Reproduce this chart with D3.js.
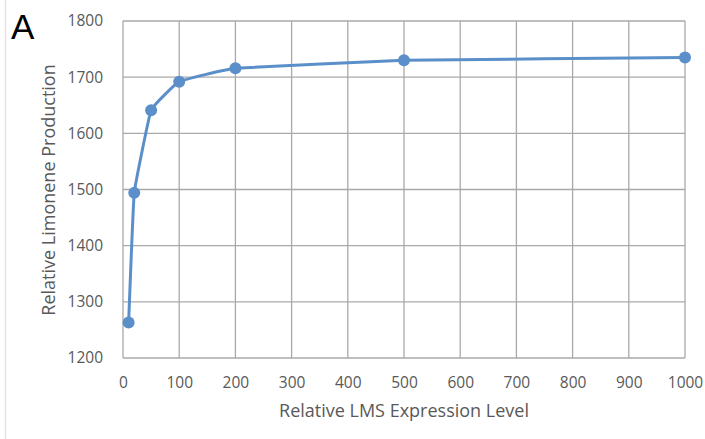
<!DOCTYPE html>
<html>
<head>
<meta charset="utf-8">
<script src="https://cdn.jsdelivr.net/npm/d3@7"></script>
<style>
  body { margin: 0; background: #fff; }
  svg text { font-family: "Open Sans", Lato, sans-serif; }
</style>
</head>
<body>
<div id="chart"></div>
<script>
// data
const expressionLevels = [10, 20, 50, 100, 200, 500, 1000];
const limoneneValues = [1263, 1494, 1641, 1692, 1716, 1730, 1735];
const xTicks = [0, 100, 200, 300, 400, 500, 600, 700, 800, 900, 1000];
const yTicks = [1200, 1300, 1400, 1500, 1600, 1700, 1800];

const W = 705, H = 439;
let margin = {top: 21, right: 20, bottom: 81, left: 123},
    width = 685 - margin.left,
    height = 358 - margin.top;

let svg = d3.select("#chart").append("svg")
    .attr("width", W)
    .attr("height", H);

svg.append("rect").attr("width", W).attr("height", H).attr("fill", "#ffffff");

// faint frame line at the left edge
svg.append("line")
    .attr("x1", 5.5).attr("x2", 5.5)
    .attr("y1", 0).attr("y2", H)
    .attr("stroke", "#e3e3e3").attr("stroke-width", 1.5);

let g = svg.append("g")
    .attr("transform", "translate(" + margin.left + "," + margin.top + ")");

let x = d3.scaleLinear().domain([0, 1000]).range([0, width]);
let y = d3.scaleLinear().domain([1200, 1800]).range([height, 0]);

// gridlines
g.append("g").selectAll("line")
    .data(xTicks).enter().append("line")
    .attr("x1", d => x(d)).attr("x2", d => x(d))
    .attr("y1", 0).attr("y2", height)
    .attr("stroke", "#a9a9a9").attr("stroke-width", 1.3);
g.append("g").selectAll("line")
    .data(yTicks).enter().append("line")
    .attr("x1", 0).attr("x2", width)
    .attr("y1", d => y(d)).attr("y2", d => y(d))
    .attr("stroke", "#a9a9a9").attr("stroke-width", 1.3);

// axes (labels only)
let xAxis = d3.axisBottom(x).tickValues(xTicks).tickFormat(d3.format("d")).tickSize(0).tickPadding(19);
let xAxisEL = g.append("g")
    .attr("transform", "translate(0," + height + ")")
    .call(xAxis);
xAxisEL.select(".domain").remove();
xAxisEL.selectAll("text").attr("fill", "#595959").style("font-size", "15.5px");

let yAxis = d3.axisLeft(y).tickValues(yTicks).tickFormat(d3.format("d")).tickSize(0).tickPadding(20);
let yAxisEL = g.append("g").call(yAxis);
yAxisEL.select(".domain").remove();
yAxisEL.selectAll("text").attr("fill", "#595959").style("font-size", "15.5px");

// line + markers
let points = expressionLevels.map((d, i) => ({x: d, y: limoneneValues[i]}));
let line = d3.line()
    .x(d => x(d.x))
    .y(d => y(d.y))
    .curve(d3.curveCardinal.tension(0.75));

g.append("path")
    .datum(points)
    .attr("fill", "none")
    .attr("stroke", "#5b8fca")
    .attr("stroke-width", 3)
    .attr("d", line);

g.selectAll(".dot")
    .data(points).enter().append("circle")
    .attr("cx", d => x(d.x))
    .attr("cy", d => y(d.y))
    .attr("r", 6)
    .attr("fill", "#5b8fca");

// titles
svg.append("text")
    .attr("x", 404)
    .attr("y", 417)
    .attr("text-anchor", "middle")
    .attr("fill", "#595959")
    .style("font-size", "18px")
    .text("Relative LMS Expression Level");

svg.append("text")
    .attr("transform", "translate(55," + 190 + ") rotate(-90)")
    .attr("text-anchor", "middle")
    .attr("fill", "#595959")
    .style("font-size", "18px")
    .text("Relative Limonene Production");

svg.append("text")
    .attr("x", 11)
    .attr("y", 39)
    .attr("fill", "#000")
    .style("font-family", "Arial, 'Liberation Sans', sans-serif")
    .style("font-size", "35px")
    .text("A");
</script>
</body>
</html>
